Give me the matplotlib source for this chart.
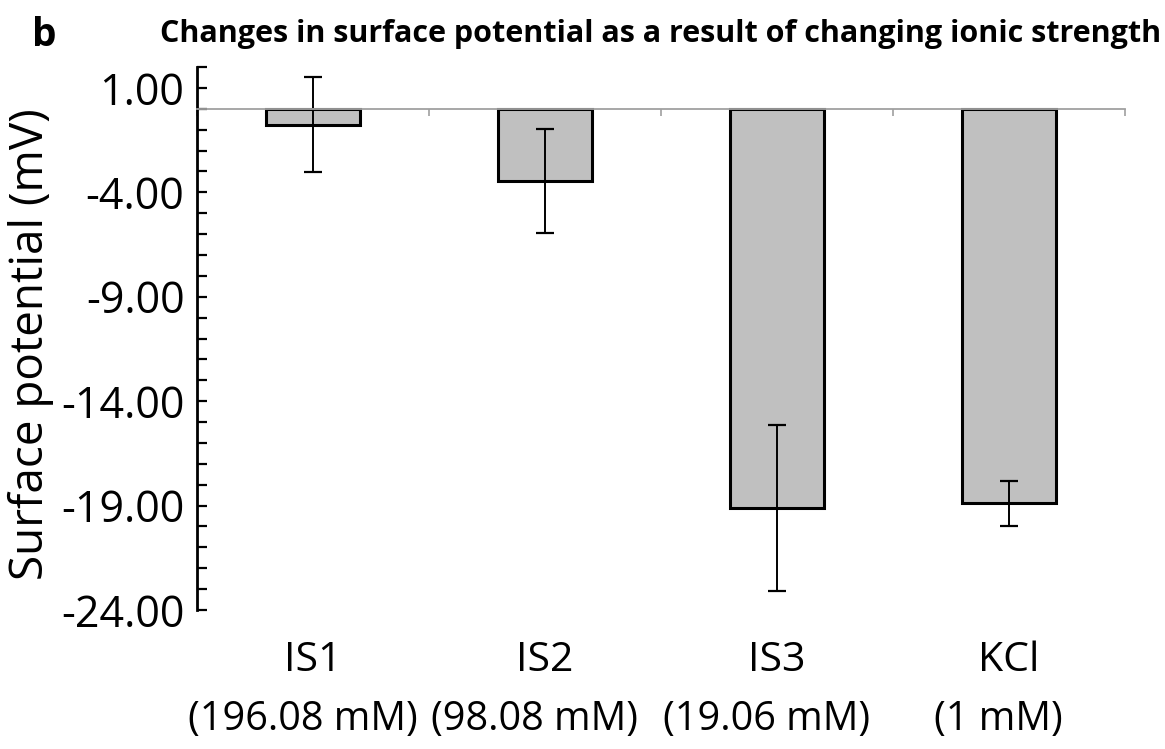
import numpy as np
import matplotlib
matplotlib.use("Agg")
import matplotlib.pyplot as plt
from matplotlib.ticker import FixedLocator, FormatStrFormatter

plt.rcParams["font.family"] = ["Open Sans", "DejaVu Sans"]

# data
groups = ["IS1", "IS2", "IS3", "KCl"]
conc = ["(196.08 mM)", "(98.08 mM)", "(19.06 mM)", "(1 mM)"]
potential = [-0.76, -3.45, -19.12, -18.9]
err = [2.28, 2.5, 3.98, 1.07]
yticks = [1, -4, -9, -14, -19, -24]

fig = plt.figure(figsize=(11.65, 7.49), dpi=100)
ax = fig.add_axes([0.169, 0.1856, 0.7967, 0.7249])

x = np.arange(len(groups))
ax.bar(x, potential, width=0.405, color="#c0c0c0", edgecolor="black", linewidth=2.2, zorder=2)
ax.errorbar(x, potential, yerr=err, fmt="none", ecolor="black", elinewidth=1.4,
            capsize=6.5, capthick=1.6, zorder=3)

ax.set_xlim(-0.5, len(groups) - 0.5)
ax.set_ylim(-24, 2)

for s in ["top", "right"]:
    ax.spines[s].set_visible(False)
ax.spines["bottom"].set_position(("data", 0))
ax.spines["bottom"].set_color("#a0a0a0")
ax.spines["bottom"].set_linewidth(1.3)
ax.spines["bottom"].set_zorder(4)
ax.spines["left"].set_linewidth(2)

ax.yaxis.set_major_locator(FixedLocator(yticks))
ax.yaxis.set_minor_locator(FixedLocator(np.arange(-24, 3, 1)))
ax.yaxis.set_major_formatter(FormatStrFormatter("%.2f"))
ax.tick_params(axis="y", which="both", direction="in", length=7, width=1.6,
               labelsize=31, pad=9)

ax.set_xticks(np.arange(-0.5, len(groups), 1.0))
ax.set_xticklabels([])
ax.tick_params(axis="x", which="both", direction="out", length=5, width=1.2,
               color="#a0a0a0")

trans = ax.get_xaxis_transform()
for i in range(len(groups)):
    ax.text(x[i], -0.094, groups[i], transform=trans, ha="center", va="center", fontsize=29.5)
    # second line sits a little left of the group centre in the original
    ax.text(x[i] - 0.045, -0.203, conc[i], transform=trans, ha="center", va="center",
            fontsize=28.5)

fig.text(31 / 1165, 0.54, "Surface potential (mV)", rotation=90, ha="center", va="center",
         fontsize=33)
fig.text(0.567, 0.955, "Changes in surface potential as a result of changing ionic strength",
         ha="center", va="center", fontsize=22, fontweight="bold")
fig.text(44 / 1165, 0.953, "b", ha="center", va="center", fontsize=28, fontweight="bold")

fig.savefig("out.png", dpi=100)
